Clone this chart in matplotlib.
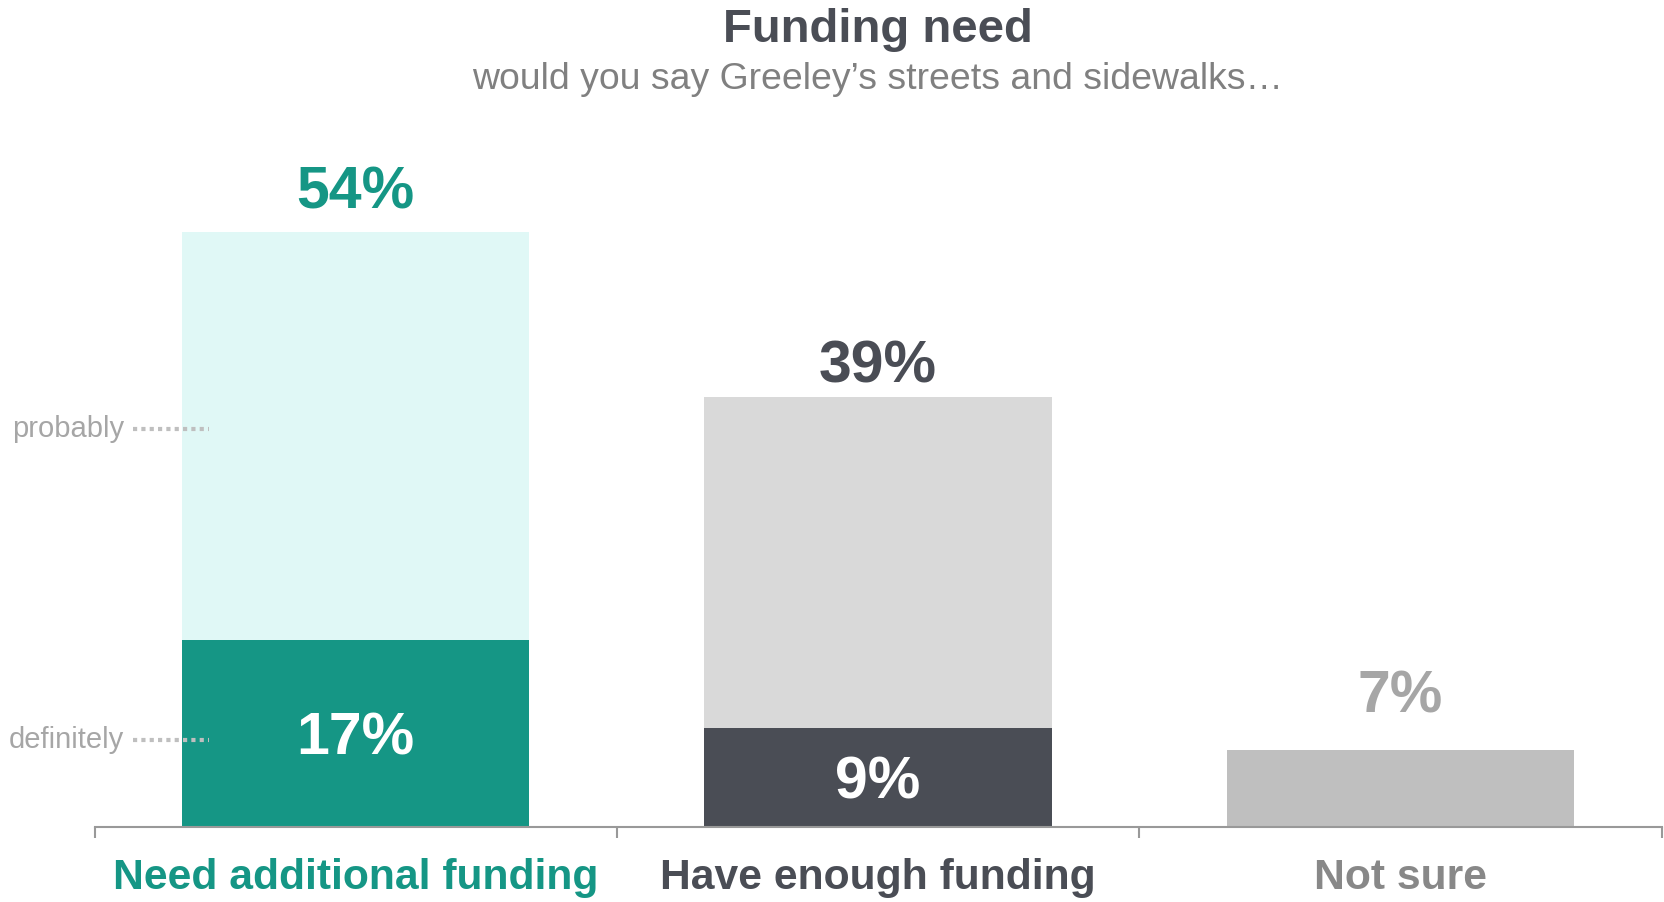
import matplotlib
matplotlib.use("Agg")
import matplotlib.pyplot as plt
from matplotlib.transforms import offset_copy

plt.rcParams['font.family'] = ['Liberation Sans', 'DejaVu Sans']

# Data
categories = ['Need additional funding', 'Have enough funding', 'Not sure']
definitely = [17, 9, 0]
total = [54, 39, 7]
probably = [t - d for t, d in zip(total, definitely)]
total_labels = ['54%', '39%', '7%']
inner_labels = ['17%', '9%', '']
side_labels = ['definitely', 'probably']

# Styles
dark_colors = ['#159685', '#4A4D55', '#BFBFBF']
light_colors = ['#E0F8F6', '#D9D9D9', '#BFBFBF']
label_colors = ['#159685', '#4A4D55', '#A6A6A6']
cat_colors = ['#159685', '#4A4D55', '#888888']
label_offsets = [28, 22, 38]
side_offsets = [-5, 5]

fig = plt.figure(figsize=(16.65, 9.02), dpi=100)
ax = fig.add_axes([0.0568, 0.0832, 0.9412, 0.733])

x = list(range(len(categories)))
w = 0.665
ax.bar(x, definitely, width=w, color=dark_colors, zorder=2)
ax.bar(x, probably, width=w, bottom=definitely, color=light_colors, zorder=2)

for i in x:
    ax.annotate(total_labels[i], (i, total[i]), xytext=(0, label_offsets[i]),
                textcoords='offset points', ha='center', va='center',
                fontsize=42.5, fontweight='bold', color=label_colors[i])
    if inner_labels[i]:
        ax.annotate(inner_labels[i], (i, definitely[i] / 2), xytext=(0, -4),
                    textcoords='offset points', ha='center', va='center',
                    fontsize=42.5, fontweight='bold', color='white', zorder=3)

# side labels for the first bar, with dotted leaders
side_y = [definitely[0] / 2, definitely[0] + probably[0] / 2]
for lab, yy, off in zip(side_labels, side_y, side_offsets):
    tr = offset_copy(ax.transData, fig=fig, y=off, units='points')
    ax.text(-0.444, yy, lab, transform=tr, ha='right', va='center',
            fontsize=21, color='#A6A6A6')
    ax.plot([-0.426, -0.281], [yy, yy], transform=tr, color='#BFBFBF', lw=3,
            ls=(0, (1, 1)), solid_capstyle='butt', dash_capstyle='butt',
            clip_on=False, zorder=4)

ax.set_xlim(-0.5, 2.5)
ax.set_ylim(0, 60)
for s in ['top', 'right', 'left']:
    ax.spines[s].set_visible(False)
ax.spines['bottom'].set_color('#999999')
ax.spines['bottom'].set_linewidth(1.5)
ax.set_yticks([])

ax.set_xticks([-0.5, 0.5, 1.5, 2.5])
ax.set_xticklabels([])
ax.tick_params(axis='x', which='major', length=8, width=1.5, color='#999999')
ax.set_xticks(x, minor=True)
ax.set_xticklabels(categories, minor=True)
ax.tick_params(axis='x', which='minor', length=0, pad=22)
for t, c in zip(ax.get_xticklabels(minor=True), cat_colors):
    t.set_color(c)
    t.set_fontsize(30.7)
    t.set_fontweight('bold')

fig.text(0.527, 0.967, 'Funding need', ha='center', va='center',
         fontsize=34, fontweight='bold', color='#4A4D55')
fig.text(0.527, 0.912, 'would you say Greeley\u2019s streets and sidewalks\u2026',
         ha='center', va='center', fontsize=26.9, color='#808080')

fig.savefig('out.png', dpi=100)
